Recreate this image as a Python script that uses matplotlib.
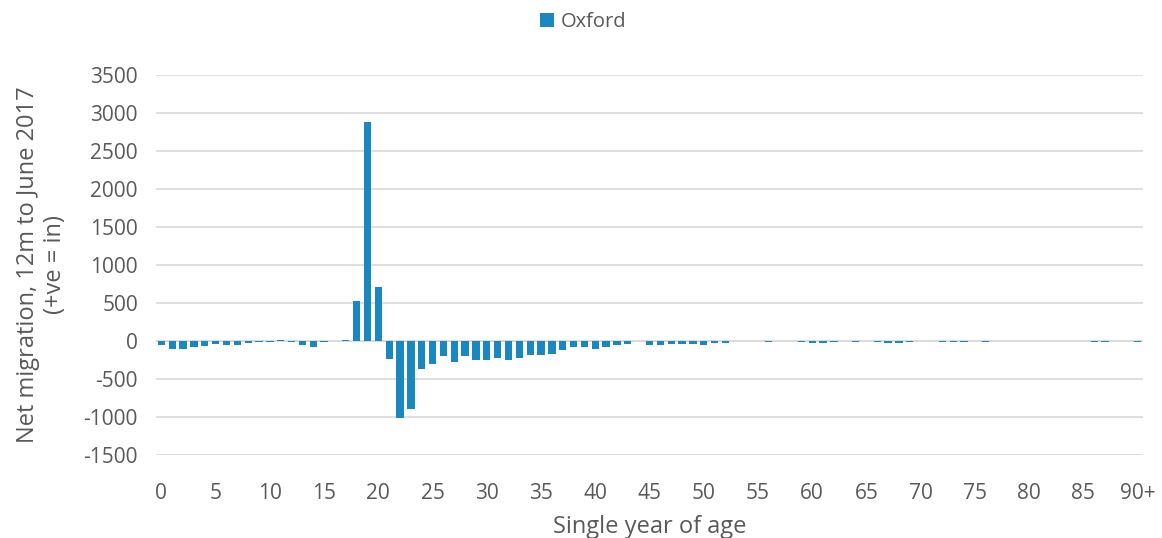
import matplotlib
matplotlib.use("Agg")
import matplotlib.pyplot as plt
from matplotlib.patches import Patch

plt.rcParams['font.family'] = ['Open Sans', 'DejaVu Sans']

ages = list(range(91))
values = [
    -50, -100, -110, -80, -65, -40, -50, -50, -30, -15,
    -10, 10, -10, -50, -80, -15, 0, 10, 520, 2880,
    710, -240, -1010, -890, -364, -307, -200, -280, -200, -250,
    -250, -228, -245, -225, -184, -180, -175, -118, -79, -75,
    -100, -75, -57, -45, 0, -48, -48, -35, -35, -35,
    -48, -30, -20, 0, 0, 0, -15, 0, 0, -15,
    -20, -25, -15, 0, -15, 0, -15, -25, -20, -15,
    0, 0, -10, -15, -10, 0, -10, 0, 0, 0,
    0, 0, 0, 0, 0, 0, -10, -10, 0, 0,
    -15,
]
xtick_pos = list(range(0, 91, 5))
xtick_labels = [str(a) for a in range(0, 90, 5)] + ['90+']
yticks = list(range(-1500, 3501, 500))

series_name = 'Oxford'
bar_color = '#1a87c0'
text_color = '#595959'
grid_color = '#d9d9d9'

fig = plt.figure(figsize=(11.62, 5.38), dpi=100)
ax = fig.add_axes([156/1162, 1 - 455/538, (1143-156)/1162, (455-75)/538])

ax.bar(ages, values, width=0.67, color=bar_color, zorder=3)
ax.set_xlim(-0.5, 90.5)
ax.set_ylim(-1500, 3500)
ax.set_yticks(yticks)
ax.set_yticklabels([str(v) for v in yticks])
ax.set_xticks(xtick_pos)
ax.set_xticklabels(xtick_labels)
ax.grid(axis='y', color=grid_color, linewidth=1.2, zorder=0)
ax.axhline(0, color=grid_color, linewidth=1.2, zorder=1)
for s in ax.spines.values():
    s.set_visible(False)
ax.tick_params(axis='both', length=0, labelsize=15, colors=text_color)
ax.tick_params(axis='y', pad=13)
ax.tick_params(axis='x', pad=20)

ax.set_xlabel('Single year of age', fontsize=17, color=text_color, labelpad=8)
ax.set_ylabel('Net migration, 12m to June 2017\n(+ve = in)', fontsize=17,
              color=text_color, labelpad=12, linespacing=1.15)

handle = Patch(facecolor=bar_color, edgecolor='none')
fig.legend([handle], [series_name], loc='center', bbox_to_anchor=(583/1162, 1 - 22/538),
           frameon=False, fontsize=14.5, handlelength=0.7, handleheight=0.7,
           handletextpad=0.3, labelcolor=text_color)

fig.savefig('out.png', dpi=100)
